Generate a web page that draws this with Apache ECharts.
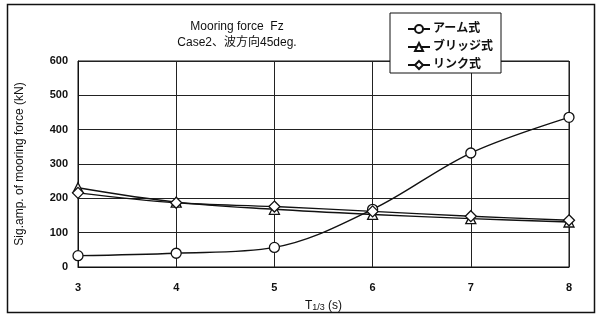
<!DOCTYPE html>
<html>
<head>
<meta charset="utf-8">
<script src="https://cdn.jsdelivr.net/npm/echarts@6/dist/echarts.min.js"></script>
<style>
  html, body { margin: 0; padding: 0; background: #fff; }
  #chart { width: 600px; height: 327px; }
</style>
</head>
<body>
<div id="chart"></div>
<script>
// Wave period T1/3 (s)
const periods = [3, 4, 5, 6, 7, 8];
// Significant amplitude of mooring force Fz (kN) per fender type
const armForce = [33, 40, 57, 168, 332, 436];
const bridgeForce = [231, 189, 168, 153, 141, 131];
const linkForce = [216, 187, 176, 162, 148, 136];
const seriesNames = ['アーム式', 'ブリッジ式', 'リンク式'];
const yTicks = [0, 100, 200, 300, 400, 500, 600];

const font = '"Liberation Sans", Arial, "Noto Sans CJK JP", sans-serif';

function pairs(values) {
  return periods.map((p, i) => [p, values[i]]);
}

function makeSeries(name, values, symbol, size) {
  return {
    name: name,
    type: 'line',
    data: pairs(values),
    smooth: 0.35,
    symbol: symbol,
    symbolSize: size,
    showAllSymbol: true,
    lineStyle: { color: '#111', width: 1.4 },
    itemStyle: { color: '#fff', borderColor: '#111', borderWidth: 1.3 },
    emphasis: { disabled: true },
    z: 3
  };
}

const chart = echarts.init(document.getElementById('chart'), null, { renderer: 'canvas' });
chart.setOption({
  animation: false,
  backgroundColor: '#fff',
  textStyle: { fontFamily: font, color: '#111' },
  grid: { left: 78, right: 31, top: 61, bottom: 60, show: true, borderColor: '#111', borderWidth: 1 },
  title: {
    text: 'Mooring force  Fz\nCase2、波方向45deg.',
    left: 232,
    top: 14,
    textAlign: 'center',
    textStyle: { fontFamily: font, fontSize: 12, fontWeight: 'normal', color: '#111', lineHeight: 16 }
  },
  legend: {
    data: seriesNames,
    orient: 'vertical',
    left: 390,
    top: 13,
    padding: [10, 8, 2, 17],
    itemGap: 6,
    itemWidth: 22,
    itemHeight: 10,
    backgroundColor: '#fff',
    borderColor: '#111',
    borderWidth: 1,
    textStyle: { fontFamily: font, fontSize: 12, fontWeight: 'bold', color: '#111', padding: [0, 0, 0, -2] },
    z: 10
  },
  xAxis: {
    type: 'value',
    min: 3,
    max: 8,
    interval: 1,
    name: '{t|T}{s|1/3} {t|(s)}',
    nameLocation: 'middle',
    nameGap: 33,
    nameTextStyle: {
      rich: {
        t: { fontFamily: font, fontSize: 12, color: '#111' },
        s: { fontFamily: font, fontSize: 9, color: '#111', verticalAlign: 'bottom', padding: [3, 0, 0, 0] }
      }
    },
    axisLine: { show: true, lineStyle: { color: '#111', width: 1 } },
    axisTick: { show: false },
    axisLabel: { fontFamily: font, fontSize: 11, fontWeight: 'bold', color: '#111', margin: 15 },
    splitLine: { show: true, lineStyle: { color: '#222', width: 1 } }
  },
  yAxis: {
    type: 'value',
    min: 0,
    max: 600,
    interval: 100,
    name: 'Sig.amp. of mooring force (kN)',
    nameLocation: 'middle',
    nameGap: 52,
    nameTextStyle: { fontFamily: font, fontSize: 12, color: '#111' },
    axisLine: { show: true, lineStyle: { color: '#111', width: 1 } },
    axisTick: { show: false },
    axisLabel: {
      fontFamily: font, fontSize: 11, fontWeight: 'bold', color: '#111', margin: 10,
      formatter: v => (yTicks.indexOf(v) >= 0 ? String(v) : '')
    },
    splitLine: { show: true, lineStyle: { color: '#222', width: 1 } }
  },
  graphic: [{
    type: 'rect',
    shape: { x: 7.5, y: 4.5, width: 587, height: 308 },
    style: { fill: 'none', stroke: '#111', lineWidth: 1.5 },
    silent: true,
    z: 0
  }],
  series: [
    makeSeries(seriesNames[0], armForce, 'circle', 10),
    makeSeries(seriesNames[1], bridgeForce, 'triangle', 10),
    makeSeries(seriesNames[2], linkForce, 'diamond', 11)
  ]
});
</script>
</body>
</html>
